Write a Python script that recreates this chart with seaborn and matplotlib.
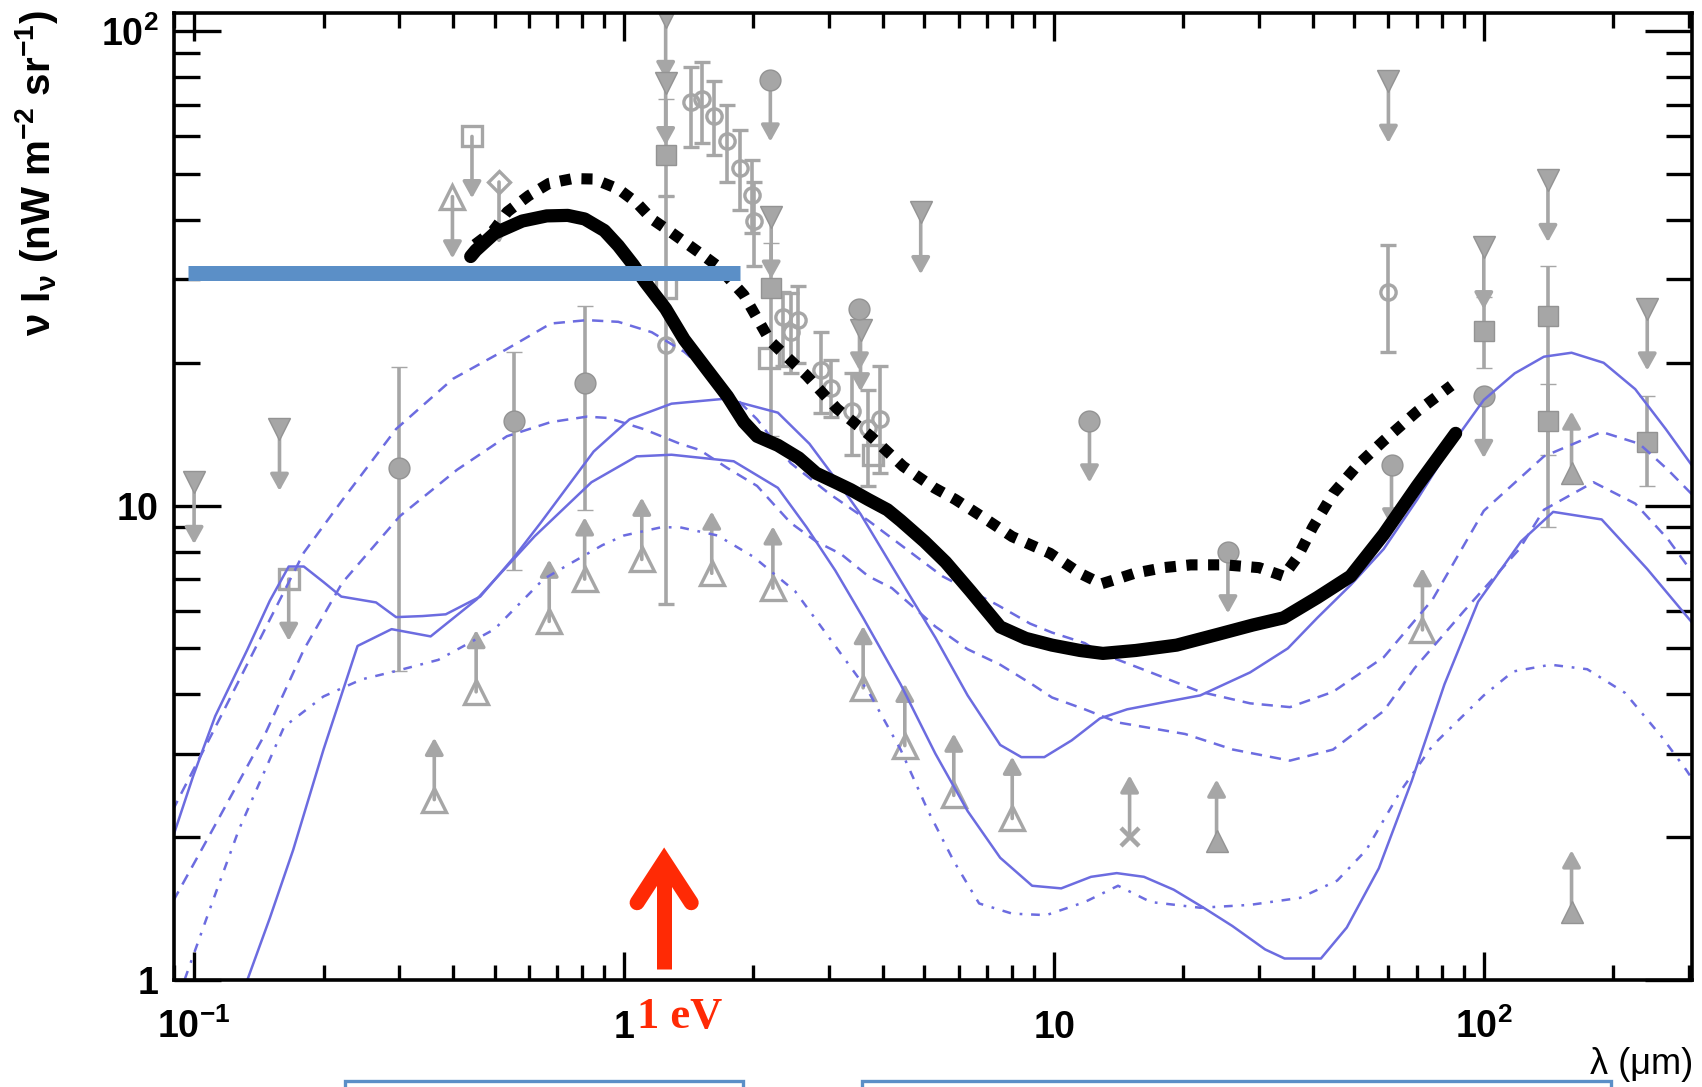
import numpy as np
import matplotlib
matplotlib.use("Agg")
import matplotlib.pyplot as plt
import seaborn as sns
from matplotlib.patches import Rectangle
from matplotlib.ticker import FixedLocator, LogLocator, NullFormatter

# ---------------- model curves: wavelength (um) vs nu I_nu (nW m^-2 sr^-1) ----------------
black_solid_wl = [0.44, 0.452, 0.50, 0.58, 0.661, 0.74, 0.81, 0.90, 0.97, 1.05, 1.12, 1.25, 1.38,
                  1.55, 1.74, 1.90, 2.04, 2.28, 2.55, 2.80, 3.10, 3.37, 3.70, 4.10, 4.40, 5.00,
                  5.60, 6.40, 7.50, 8.60, 9.90, 11.5, 13.0, 15.5, 19.3, 24.0, 29.0, 34.2, 41.0,
                  49.0, 58.5, 70.0, 86.0]
black_solid_val = [33.5, 34.5, 37.5, 39.8, 40.8, 40.9, 40.2, 38.0, 35.3, 32.2, 29.6, 26.0, 22.4,
                   19.5, 17.0, 15.0, 14.0, 13.4, 12.6, 11.7, 11.2, 10.8, 10.3, 9.8, 9.3, 8.4,
                   7.6, 6.6, 5.55, 5.25, 5.08, 4.95, 4.88, 4.95, 5.08, 5.35, 5.6, 5.8, 6.4,
                   7.1, 8.7, 11.0, 14.2]

black_dotted_wl = [0.45, 0.497, 0.535, 0.60, 0.67, 0.76, 0.85, 0.97, 1.07, 1.16, 1.27, 1.38,
                   1.52, 1.65, 1.90, 2.19, 2.66, 3.13, 3.75, 4.46, 5.27, 5.90, 6.90, 8.00, 9.80,
                   11.5, 12.9, 14.0, 15.4, 18.0, 20.8, 25.0, 30.0, 34.2, 36.9, 40.0, 44.6, 51.0,
                   58.5, 70.0, 84.0]
black_dotted_val = [35.5, 38.0, 41.6, 45.0, 47.8, 48.9, 48.8, 46.5, 43.5, 40.2, 38.0, 36.0,
                    33.8, 32.0, 27.8, 22.2, 18.8, 16.0, 14.0, 12.1, 10.9, 10.3, 9.4, 8.6, 7.93,
                    7.2, 6.84, 7.0, 7.2, 7.4, 7.5, 7.5, 7.4, 7.1, 7.8, 9.0, 10.6, 12.2,
                    13.7, 15.8, 17.9]

blue_upper_wl = [0.085, 0.0995, 0.112, 0.133, 0.150, 0.166, 0.180, 0.200, 0.220, 0.265, 0.295,
                 0.340, 0.385, 0.463, 0.556, 0.64, 0.73, 0.85, 1.03, 1.29, 1.72, 2.28, 2.70,
                 3.08, 3.55, 4.40, 5.30, 6.30, 7.50, 8.40, 9.50, 11.0, 12.8, 14.8, 18.0, 21.9,
                 28.6, 35.0, 41.0, 49.0, 58.5, 70.0, 84.0, 100.0, 118.0, 138.0, 160.0, 190.0,
                 225.0, 265.0, 310.0]
blue_upper_val = [1.75, 2.69, 3.6, 4.97, 6.3, 7.44, 7.44, 6.9, 6.43, 6.25, 5.82,
                  5.85, 5.9, 6.43, 7.8, 9.2, 10.8, 13.0, 15.2, 16.4, 16.8, 15.7, 13.5,
                  11.5, 9.6, 6.95, 5.27, 3.98, 3.13, 2.95, 2.95, 3.2, 3.56, 3.72, 3.85, 3.98,
                  4.45, 5.0, 5.8, 6.8, 8.1, 10.3, 13.4, 16.7, 19.0, 20.6, 21.0, 20.0,
                  17.6, 14.5, 11.9]

blue_lower_wl = [0.133, 0.150, 0.170, 0.200, 0.240, 0.288, 0.355, 0.454, 0.62, 0.84, 1.07,
                 1.29, 1.80, 2.28, 2.66, 3.10, 3.60, 4.40, 5.30, 6.30, 7.50, 8.90, 10.4, 12.2,
                 14.0, 16.2, 19.0, 22.3, 26.0, 31.0, 34.4, 41.8, 48.0, 57.0, 68.0, 81.0, 97.0,
                 122.0, 145.0, 188.0, 240.0, 305.0]
blue_lower_val = [1.0, 1.35, 1.88, 3.06, 5.06, 5.49, 5.3, 6.34, 8.62, 11.2, 12.7,
                  12.8, 12.4, 10.9, 9.0, 7.3, 5.8, 4.2, 3.0, 2.27, 1.81, 1.58, 1.56, 1.65,
                  1.68, 1.65, 1.55, 1.42, 1.30, 1.16, 1.11, 1.11, 1.29, 1.72, 2.63, 4.2, 6.27,
                  8.4, 9.7, 9.35, 7.35, 5.67]

blue_dash_a_wl = [0.085, 0.0935, 0.11, 0.13, 0.15, 0.18, 0.22, 0.295, 0.40, 0.53, 0.676, 0.82,
                  0.97, 1.16, 1.38, 1.70, 2.04, 2.44, 3.00, 3.70, 4.66, 5.50, 7.40, 8.80, 9.90,
                  11.8, 12.9, 16.8, 21.9, 28.6, 35.4, 44.6, 58.5, 76.0, 100.0, 138.0, 188.0,
                  230.0, 268.0, 310.0]
blue_dash_a_val = [2.09, 2.48, 3.3, 4.45, 5.75, 7.96, 10.2, 14.5, 18.5, 21.3, 24.2, 24.6,
                   24.4, 23.2, 21.1, 17.9, 15.2, 12.3, 10.6, 9.3, 7.95, 7.1, 6.17, 5.64, 5.4,
                   5.13, 4.88, 4.45, 4.05, 3.83, 3.76, 4.05, 4.79, 6.34, 9.75, 12.7, 14.3,
                   13.5, 11.9, 10.4]

blue_dash_b_wl = [0.085, 0.108, 0.147, 0.18, 0.221, 0.301, 0.409, 0.534, 0.676, 0.82, 0.92,
                  1.11, 1.35, 1.50, 1.74, 2.04, 2.44, 2.80, 3.20, 3.70, 4.20, 5.30, 6.30, 7.50,
                  8.90, 9.90, 11.8, 14.1, 20.2, 26.1, 35.4, 44.6, 58.5, 69.0, 90.0, 121.0,
                  138.0, 180.0, 225.0, 268.0, 310.0]
blue_dash_b_val = [1.35, 2.0, 3.33, 4.97, 6.87, 9.5, 11.9, 14.0, 15.0, 15.4, 15.3,
                   14.5, 13.5, 13.1, 12.0, 11.0, 9.2, 8.4, 7.9, 7.1, 6.7, 5.56, 4.98, 4.62,
                   4.2, 3.94, 3.72, 3.49, 3.3, 3.06, 2.9, 3.06, 3.69, 4.54, 6.0, 8.1,
                   9.8, 11.2, 10.1, 8.5, 7.1]

blue_dot_wl = [0.09, 0.095, 0.11, 0.127, 0.162, 0.20, 0.245, 0.295, 0.37, 0.50, 0.65, 0.76,
               0.89, 1.00, 1.22, 1.35, 1.65, 2.00, 2.50, 3.00, 3.70, 4.40, 5.10, 5.85, 6.70,
               8.00, 9.60, 11.8, 14.1, 16.8, 21.9, 28.6, 37.4, 45.6, 53.3, 64.0, 76.0, 100.0,
               117.0, 143.0, 174.0, 213.0, 259.0, 295.0, 310.0]
blue_dot_val = [0.88, 1.0, 1.45, 2.07, 3.42, 3.96, 4.3, 4.48, 4.73, 5.49, 7.0, 7.6,
                8.25, 8.65, 9.0, 9.0, 8.65, 7.8, 6.6, 5.27, 4.06, 3.06, 2.27, 1.78, 1.45,
                1.38, 1.37, 1.46, 1.58, 1.46, 1.42, 1.44, 1.49, 1.62, 1.88, 2.5, 3.12, 3.98,
                4.47, 4.62, 4.52, 4.03, 3.26, 2.78, 2.6]

# ---------------- measurements and limits ----------------
# detections with error bars
circ_wl = [0.30, 0.556, 0.81]
circ_val = [12.0, 15.1, 18.1]
circ_lo = [4.48, 7.3, 9.8]
circ_hi = [19.6, 21.1, 26.3]

opcirc_wl = [1.25, 1.43, 1.52, 1.62, 1.74, 1.86, 1.98, 2.01, 2.34, 2.44, 2.54, 2.87, 3.03,
             3.40, 3.70, 3.95, 60.0]
opcirc_val = [21.8, 71.0, 72.0, 66.3, 58.8, 51.4, 45.1, 39.8, 25.0, 23.2, 24.6, 19.3, 17.7,
              15.8, 14.6, 15.2, 28.2]
opcirc_lo = [6.2, 57.0, 58.0, 54.7, 48.0, 42.0, 37.5, 32.0, 19.7, 19.0, 20.0, 15.7, 15.4,
             12.8, 11.0, 11.7, 21.1]
opcirc_hi = [45.0, 84.0, 86.0, 78.5, 70.0, 62.0, 53.5, 48.0, 28.2, 28.0, 29.0, 23.2, 20.3,
             19.0, 17.5, 19.7, 35.5]

sq_wl = [1.25, 2.20, 100.0, 141.0, 141.0, 240.0]
sq_val = [54.7, 28.7, 23.3, 25.1, 15.1, 13.6]
sq_lo = [45.0, 14.0, 19.5, 9.0, 12.8, 11.0]
sq_hi = [72.0, 35.8, 27.5, 32.0, 18.0, 17.0]

opsq_wl = [1.25, 2.17, 3.80]
opsq_val = [28.7, 20.5, 12.8]

# upper limits
ul_tri_wl = [0.100, 0.158, 1.25, 1.25, 2.20, 3.55, 4.90, 60.0, 100.0, 141.0, 240.0]
ul_tri_val = [11.2, 14.5, 107.0, 77.6, 40.6, 23.5, 41.5, 78.5, 35.0, 48.5, 26.0]
ul_circ_wl = [2.19, 3.53, 12.1, 25.4, 61.0, 100.0]
ul_circ_val = [79.0, 26.0, 15.1, 8.0, 12.2, 17.0]
ul_opsq_wl = [0.166, 0.443]
ul_opsq_val = [7.0, 60.0]
ul_optri_wl = [0.399]
ul_optri_val = [44.8]
ul_opdia_wl = [0.512]
ul_opdia_val = [48.1]

# lower limits
ll_optri_wl = [0.362, 0.453, 0.67, 0.81, 1.10, 1.60, 2.22, 3.60, 4.50, 5.85, 8.00, 72.0]
ll_optri_val = [2.4, 4.05, 5.7, 7.0, 7.7, 7.2, 6.7, 4.13, 3.12, 2.45, 2.19, 5.47]
ll_tri_wl = [23.9, 160.0, 160.0]
ll_tri_val = [1.96, 11.7, 1.39]
ll_star_wl = [15.0]
ll_star_val = [2.0]
limit_arrow_factor = 1.35

# horizontal band and 1 eV marker
band_wl = [0.0968, 1.866]
band_level = 30.9
ev_wl = 1.24
ev_arrow_base, ev_arrow_tip, ev_arm_end = 1.054, 1.78, 1.455
ev_arm_spread = 1.156

# ---------------- style ----------------
sns.set_theme(style="ticks")
plt.rcParams["font.family"] = ["Liberation Sans", "DejaVu Sans"]
plt.rcParams["mathtext.fontset"] = "custom"
plt.rcParams["mathtext.rm"] = "Liberation Sans"
plt.rcParams["mathtext.bf"] = "Liberation Sans:bold"
plt.rcParams["mathtext.it"] = "Liberation Sans:italic"
plt.rcParams["mathtext.sf"] = "Liberation Sans"

GRAY = "#a6a6a6"
GRAY_EDGE = "#939393"
BLUE_LINE = "#6c6ce0"
BAND = "#5b8fc7"
RED = "#ff2a05"

W, H = 1702, 1087
fig = plt.figure(figsize=(W / 100, H / 100), dpi=100)
fig.patch.set_facecolor("white")
ax = fig.add_axes([174 / W, 1 - 980 / H, (1692 - 174) / W, (980 - 12.5) / H])
ax.set_facecolor("white")
ax.set_xscale("log")
ax.set_yscale("log")
ax.set_xlim(0.0898, 305.0)
ax.set_ylim(1.0, 109.5)


def model(x, y, color, lw, ls, z):
    sns.lineplot(x=x, y=y, ax=ax, sort=False, estimator=None, color=color,
                 linewidth=lw, linestyle=ls, zorder=z, legend=False)


def points(x, y, marker, ms, filled=True, lo=None, hi=None):
    kw = dict(ms=ms, mfc=GRAY if filled else "none",
              mec=GRAY_EDGE if filled else GRAY, mew=1.0 if filled else 2.4, zorder=2)
    if lo is None:
        ax.plot(x, y, ls="none", marker=marker, **kw)
    else:
        yv = np.asarray(y)
        err = [yv - np.asarray(lo), np.asarray(hi) - yv]
        ax.errorbar(x, yv, yerr=err, fmt=marker, ecolor=GRAY, elinewidth=2.6,
                    capsize=6, capthick=2.6, **kw)


def arrows(x, y, up):
    for xi, yi in zip(x, y):
        end = yi * limit_arrow_factor if up else yi / limit_arrow_factor
        ax.annotate("", xy=(xi, end), xytext=(xi, yi), zorder=2,
                    arrowprops=dict(arrowstyle="-|>,head_length=0.45,head_width=0.25",
                                    color=GRAY, lw=2.6, shrinkA=0, shrinkB=0,
                                    mutation_scale=22))


# gray measurements
arrows(ul_tri_wl, ul_tri_val, up=False)
arrows(ul_circ_wl, ul_circ_val, up=False)
arrows(ul_opsq_wl, ul_opsq_val, up=False)
arrows(ul_optri_wl, ul_optri_val, up=False)
arrows(ul_opdia_wl, ul_opdia_val, up=False)
arrows(ll_optri_wl, ll_optri_val, up=True)
arrows(ll_tri_wl, ll_tri_val, up=True)
arrows(ll_star_wl, ll_star_val, up=True)

points(circ_wl, circ_val, "o", 15, lo=circ_lo, hi=circ_hi)
points(opcirc_wl, opcirc_val, "o", 11, filled=False, lo=opcirc_lo, hi=opcirc_hi)
points(sq_wl, sq_val, "s", 14, lo=sq_lo, hi=sq_hi)
points(opsq_wl, opsq_val, "s", 14, filled=False)
points(ul_tri_wl, ul_tri_val, "v", 16)
points(ul_circ_wl, ul_circ_val, "o", 15)
points(ul_opsq_wl, ul_opsq_val, "s", 15, filled=False)
points(ul_optri_wl, ul_optri_val, "^", 17, filled=False)
points(ul_opdia_wl, ul_opdia_val, "D", 11, filled=False)
points(ll_optri_wl, ll_optri_val, "^", 17, filled=False)
points(ll_tri_wl, ll_tri_val, "^", 16)
ax.plot(ll_star_wl, ll_star_val, ls="none", marker="x", ms=13, mew=3.2, mec=GRAY, zorder=2)

# model bands
model(blue_upper_wl, blue_upper_val, BLUE_LINE, 1.8, "-", 3)
model(blue_lower_wl, blue_lower_val, BLUE_LINE, 1.8, "-", 3)
model(blue_dash_a_wl, blue_dash_a_val, BLUE_LINE, 1.8, (0, (4.5, 3.2)), 3)
model(blue_dash_b_wl, blue_dash_b_val, BLUE_LINE, 1.8, (0, (4.5, 3.2)), 3)
model(blue_dot_wl, blue_dot_val, BLUE_LINE, 1.8, (0, (3.5, 3.5, 1.1, 3.5)), 3)
model(black_dotted_wl, black_dotted_val, "black", 8.0, (0, (1, 0.95)), 4)
model(black_solid_wl, black_solid_val, "black", 9.5, "-", 4)

# horizontal band
ax.plot(band_wl, [band_level, band_level], color=BAND, lw=10.8,
        solid_capstyle="butt", zorder=5)

# 1 eV arrow
ax.plot([ev_wl, ev_wl], [ev_arrow_base, ev_arrow_tip], color=RED, lw=10.8,
        solid_capstyle="butt", zorder=6, clip_on=False)
ax.plot([ev_wl / ev_arm_spread, ev_wl, ev_wl * ev_arm_spread],
        [ev_arm_end, ev_arrow_tip, ev_arm_end], color=RED, lw=10.8,
        solid_capstyle="round", solid_joinstyle="miter", zorder=6, clip_on=False)

# frame and ticks (ROOT-like: inward on all four sides)
for s in ax.spines.values():
    s.set_visible(True)
    s.set_linewidth(2.6)
    s.set_color("black")
    s.set_zorder(7)

ax.xaxis.set_major_locator(FixedLocator([0.1, 1, 10, 100]))
ax.xaxis.set_minor_locator(LogLocator(base=10, subs=np.arange(2, 10) * 1.0, numticks=50))
ax.xaxis.set_minor_formatter(NullFormatter())
ax.set_xticklabels([r"$\mathbf{10^{-1}}$", r"$\mathbf{1}$", r"$\mathbf{10}$",
                    r"$\mathbf{10^{2}}$"])
ax.yaxis.set_major_locator(FixedLocator([1, 10, 100]))
ax.yaxis.set_minor_locator(LogLocator(base=10, subs=np.arange(2, 10) * 1.0, numticks=50))
ax.yaxis.set_minor_formatter(NullFormatter())
ax.set_yticklabels([r"$\mathbf{1}$", r"$\mathbf{10}$", r"$\mathbf{10^{2}}$"])

ax.tick_params(axis="x", which="major", direction="in", length=20, width=2.4,
               top=True, bottom=True, pad=42, labelsize=27, colors="black")
ax.tick_params(axis="x", which="minor", direction="in", length=11, width=2.4,
               top=True, bottom=True, colors="black")
ax.tick_params(axis="y", which="major", direction="in", length=34, width=2.4,
               left=True, right=True, pad=11, labelsize=27, colors="black")
ax.tick_params(axis="y", which="minor", direction="in", length=19, width=2.4,
               left=True, right=True, colors="black")
for t in ax.xaxis.get_major_ticks():
    t.label1.set_verticalalignment("baseline")

# axis titles
fig.text(37 / W, 1 - 10 / H, r"$\mathbf{\nu\ I_{\nu}\ (nW\ m^{-2}\ sr^{-1})}$",
         rotation=90, ha="center", va="top", fontsize=29, color="black")
fig.text(1693 / W, 1 - 1064 / H, "λ (μm)", ha="right", va="center", fontsize=26,
         color="black")

# 1 eV label
fig.text(637 / W, 1 - 1028 / H, "1 eV", color=RED, fontsize=32, fontweight="bold",
         family="Liberation Serif", ha="left", va="baseline")

# boxes along the lower edge
for left, right in [(345, 743), (862, 1611)]:
    fig.add_artist(Rectangle((left / W, -0.05), (right - left) / W, 0.05 + 6 / H,
                             transform=fig.transFigure, fill=False, edgecolor=BAND,
                             linewidth=2.4, clip_on=False))

fig.savefig("out.png", dpi=100, facecolor="white")
